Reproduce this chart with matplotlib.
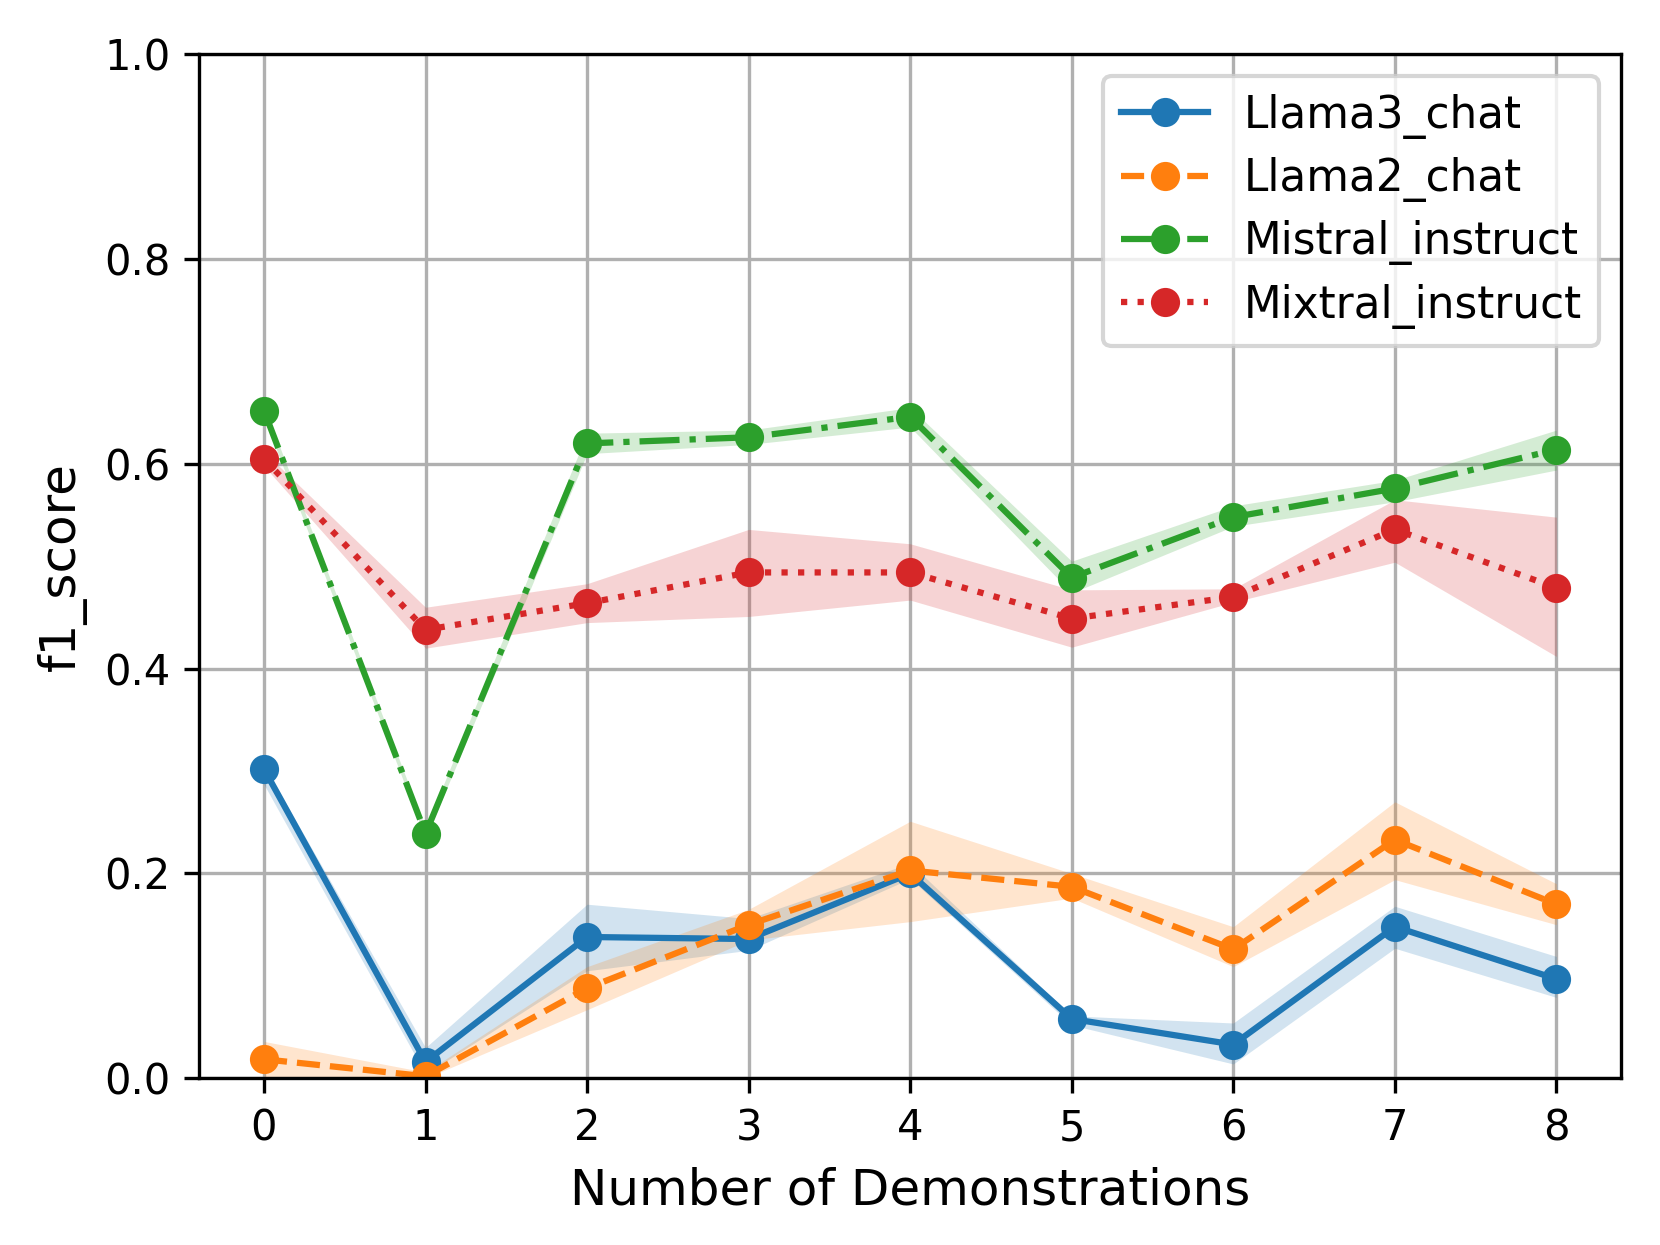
import matplotlib
matplotlib.use("Agg")
import matplotlib.pyplot as plt
import numpy as np

demos = [0, 1, 2, 3, 4, 5, 6, 7, 8]

llama3_mean = [0.302, 0.016, 0.138, 0.136, 0.200, 0.058, 0.033, 0.148, 0.097]
llama3_lo = [0.287, 0.004, 0.105, 0.125, 0.195, 0.052, 0.014, 0.127, 0.079]
llama3_hi = [0.306, 0.030, 0.170, 0.156, 0.210, 0.061, 0.054, 0.168, 0.119]

llama2_mean = [0.0186, 0.002, 0.088, 0.150, 0.203, 0.187, 0.126, 0.233, 0.170]
llama2_lo = [0.000, 0.000, 0.067, 0.135, 0.153, 0.176, 0.109, 0.194, 0.150]
llama2_hi = [0.036, 0.006, 0.109, 0.165, 0.251, 0.200, 0.148, 0.270, 0.190]

mistral_mean = [0.652, 0.239, 0.620, 0.626, 0.646, 0.489, 0.548, 0.576, 0.614]
mistral_lo = [0.646, 0.234, 0.610, 0.619, 0.636, 0.474, 0.539, 0.563, 0.594]
mistral_hi = [0.657, 0.244, 0.630, 0.633, 0.655, 0.505, 0.559, 0.584, 0.633]

mixtral_mean = [0.605, 0.438, 0.464, 0.494, 0.494, 0.449, 0.470, 0.536, 0.479]
mixtral_lo = [0.598, 0.420, 0.445, 0.451, 0.467, 0.421, 0.465, 0.504, 0.412]
mixtral_hi = [0.612, 0.460, 0.483, 0.536, 0.522, 0.477, 0.478, 0.565, 0.548]

labels = ["Llama3_chat", "Llama2_chat", "Mistral_instruct", "Mixtral_instruct"]
colors = ["#1f77b4", "#ff7f0e", "#2ca02c", "#d62728"]
styles = ["-", "--", "-.", ":"]
means = [llama3_mean, llama2_mean, mistral_mean, mixtral_mean]
los = [llama3_lo, llama2_lo, mistral_lo, mixtral_lo]
his = [llama3_hi, llama2_hi, mistral_hi, mixtral_hi]

fig = plt.figure(figsize=(1660/300, 1245/300), dpi=300)
ax = fig.add_axes([0.1201, 0.1339, 0.8564, 0.8225])

for m, lo, hi, lab, c, ls in zip(means, los, his, labels, colors, styles):
    ax.fill_between(demos, lo, hi, color=c, alpha=0.2, linewidth=0)
    ax.plot(demos, m, linestyle=ls, marker="o", color=c, label=lab, linewidth=1.5, markersize=6)

ax.set_ylim(0, 1.0)
ax.set_xlim(-0.4, 8.4)
ax.set_xticks(demos)
ax.set_yticks([0.0, 0.2, 0.4, 0.6, 0.8, 1.0])
ax.tick_params(labelsize=10)
ax.grid(True)
ax.set_axisbelow(True)
ax.set_xlabel("Number of Demonstrations", fontsize=12)
ax.set_ylabel("f1_score", fontsize=12)
ax.legend(loc="upper right", fontsize=10.5, labelspacing=0.42)

fig.savefig("out.png", dpi=300)
